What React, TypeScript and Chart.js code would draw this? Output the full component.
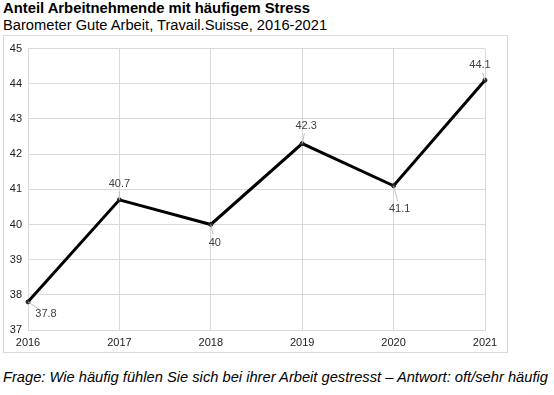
import React, { useEffect, useRef } from "react";
import { Chart, registerables } from "chart.js";

Chart.register(...registerables);

const categories = ["2016", "2017", "2018", "2019", "2020", "2021"];
const stressValues = [37.8, 40.7, 40.0, 42.3, 41.1, 44.1];
const valueLabels = ["37.8", "40.7", "40", "42.3", "41.1", "44.1"];
const yTicks = [37, 38, 39, 40, 41, 42, 43, 44, 45];

// label offsets (text centre relative to point) for the leader-line labels
const labelOffsets: [number, number][] = [
  [18, 12],
  [0, -16],
  [4, 18],
  [4, -18],
  [6, 23],
  [-5, -15],
];

const FONT = "'Liberation Sans', Arial, sans-serif";

const leaderLabels = {
  id: "leaderLabels",
  afterDatasetsDraw(chart: any) {
    const ctx = chart.ctx;
    const meta = chart.getDatasetMeta(0);
    ctx.save();
    ctx.font = `11px ${FONT}`;
    ctx.textAlign = "center";
    ctx.textBaseline = "middle";
    meta.data.forEach((pt: any, i: number) => {
      const [dx, dy] = labelOffsets[i];
      const tx = pt.x + dx;
      const ty = pt.y + dy;
      ctx.strokeStyle = "#bfbfbf";
      ctx.lineWidth = 1;
      ctx.beginPath();
      ctx.moveTo(pt.x, pt.y);
      const len = Math.hypot(dx, dy);
      const shrink = Math.max(0, len - 8) / len;
      ctx.lineTo(pt.x + dx * shrink, pt.y + dy * shrink);
      ctx.stroke();
      ctx.fillStyle = "#404040";
      ctx.fillText(valueLabels[i], tx, ty);
    });
    ctx.restore();
  },
};

export default function App() {
  const ref = useRef<HTMLCanvasElement>(null);
  useEffect(() => {
    document.body.style.margin = "0";
    const chart = new Chart(ref.current!, {
      type: "line",
      data: {
        labels: categories,
        datasets: [
          {
            data: stressValues,
            borderColor: "#000000",
            borderWidth: 3,
            pointRadius: 2,
            pointBorderWidth: 1,
            pointBackgroundColor: "#222222",
            pointBorderColor: "#222222",
            tension: 0,
            clip: false as any,
          },
        ],
      },
      options: {
        animation: false,
        responsive: false,
        maintainAspectRatio: false,
        layout: { padding: { top: 11, right: 22, left: 0, bottom: 0 } },
        plugins: {
          legend: { display: false },
          tooltip: { enabled: false },
        },
        scales: {
          x: {
            type: "category",
            offset: false,
            grid: { color: "#d9d9d9", drawTicks: false },
            border: { color: "#d9d9d9" },
            ticks: {
              color: "#222",
              font: { family: FONT, size: 11 },
              padding: 6,
              maxRotation: 0,
            },
            afterFit(scale: any) {
              scale.height = 22;
            },
          },
          y: {
            min: 37,
            max: 45,
            afterBuildTicks(scale: any) {
              scale.ticks = yTicks.map((v) => ({ value: v }));
            },
            grid: { color: "#d9d9d9", drawTicks: false },
            border: { color: "#d9d9d9" },
            ticks: {
              color: "#222",
              font: { family: FONT, size: 11 },
              padding: 6,
            },
            afterFit(scale: any) {
              scale.width = 24;
            },
          },
        },
      },
      plugins: [leaderLabels],
    });
    return () => chart.destroy();
  }, []);

  return (
    <div style={{ position: "relative", width: 554, height: 395, fontFamily: FONT, background: "#fff" }}>
      <div style={{ position: "absolute", left: 3, top: 0, fontSize: 14.8, fontWeight: "bold", color: "#000", lineHeight: "17px", whiteSpace: "nowrap" }}>
        Anteil Arbeitnehmende mit häufigem Stress
      </div>
      <div style={{ position: "absolute", left: 3, top: 17, fontSize: 14.7, color: "#000", lineHeight: "17px", whiteSpace: "nowrap" }}>
        Barometer Gute Arbeit, Travail.Suisse, 2016-2021
      </div>
      <div
        style={{
          position: "absolute",
          left: 3,
          top: 35,
          width: 503,
          height: 316,
          border: "1px solid #d9d9d9",
        }}
      >
        <canvas ref={ref} width={503} height={316} style={{ display: "block" }} />
      </div>
      <div style={{ position: "absolute", left: 3, top: 369, fontSize: 14.7, fontStyle: "italic", color: "#000", lineHeight: "16px", whiteSpace: "nowrap" }}>
        Frage: Wie häufig fühlen Sie sich bei ihrer Arbeit gestresst – Antwort: oft/sehr häufig
      </div>
    </div>
  );
}
